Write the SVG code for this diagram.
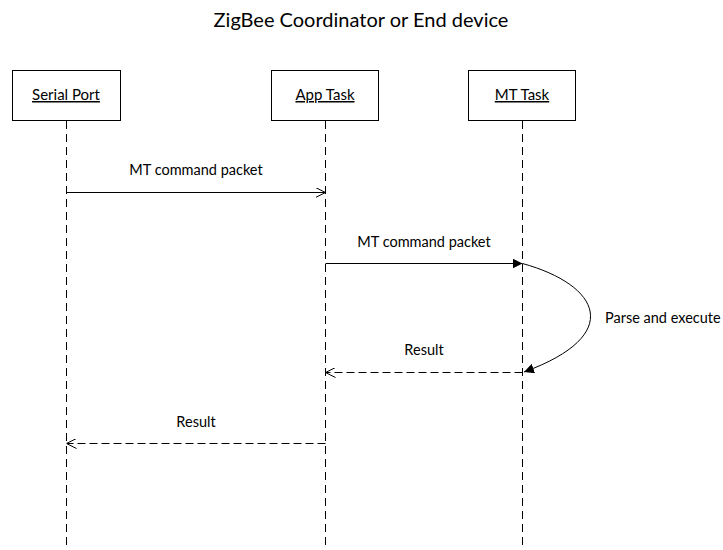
<svg xmlns="http://www.w3.org/2000/svg" width="723" height="550" viewBox="0 0 723 550">
<style>
text{font-family:Lato,"Open Sans","Liberation Sans",sans-serif;fill:#000}
.title{font-size:20px}
.lbl{font-size:15px;text-decoration:underline}
.msg{font-size:14.5px}
.box{fill:#fff;stroke:#000;stroke-width:1}
.life{stroke:#000;stroke-width:1;stroke-dasharray:8,5;fill:none}
.solid{stroke:#000;stroke-width:1;fill:none}
.dash{stroke:#000;stroke-width:1;stroke-dasharray:8,4;fill:none}
</style>
<defs>
<marker id="open" viewBox="0 0 10 10" refX="10" refY="5" markerWidth="10" markerHeight="10" markerUnits="userSpaceOnUse" orient="auto">
<path d="M0,0 L10,5 L0,10" fill="none" stroke="#000" stroke-width="1"/>
</marker>
<marker id="fill" viewBox="0 0 10 10" refX="10" refY="5" markerWidth="10" markerHeight="10" markerUnits="userSpaceOnUse" orient="auto">
<path d="M0,0 L10,5 L0,10 Z" fill="#000"/>
</marker>
</defs>
<rect width="723" height="550" fill="#fff"/>
<text class="title" x="361" y="27" text-anchor="middle">ZigBee Coordinator or End device</text>
<g id="serial">
<rect class="box" x="12.5" y="70.5" width="108" height="50"/>
<text class="lbl" x="66" y="100" text-anchor="middle">Serial Port</text>
<line class="life" x1="66.5" y1="121" x2="66.5" y2="550"/>
</g>
<g id="app">
<rect class="box" x="271.5" y="70.5" width="107" height="50"/>
<text class="lbl" x="325" y="100" text-anchor="middle">App Task</text>
<line class="life" x1="325.5" y1="121" x2="325.5" y2="550"/>
</g>
<g id="mt">
<rect class="box" x="468.5" y="70.5" width="107" height="50"/>
<text class="lbl" x="522" y="100" text-anchor="middle">MT Task</text>
<line class="life" x1="522.5" y1="121" x2="522.5" y2="550"/>
</g>
<g id="connectors">
<line class="solid" x1="66.5" y1="192.5" x2="325.5" y2="192.5" marker-end="url(#open)"/>
<text class="msg" x="196" y="175" text-anchor="middle">MT command packet</text>
<line class="solid" x1="325.5" y1="263.5" x2="522.5" y2="263.5" marker-end="url(#fill)"/>
<text class="msg" x="424" y="247" text-anchor="middle">MT command packet</text>
<path class="solid" d="M522.5,263.5 C600,285 625,335 524,372" marker-end="url(#fill)"/>
<text class="msg" x="605" y="323">Parse and execute</text>
<line class="dash" x1="522.5" y1="372.5" x2="325.5" y2="372.5" marker-end="url(#open)"/>
<text class="msg" x="424" y="355" text-anchor="middle">Result</text>
<line class="dash" x1="325.5" y1="443.5" x2="66.5" y2="443.5" marker-end="url(#open)"/>
<text class="msg" x="196" y="427" text-anchor="middle">Result</text>
</g>
</svg>
